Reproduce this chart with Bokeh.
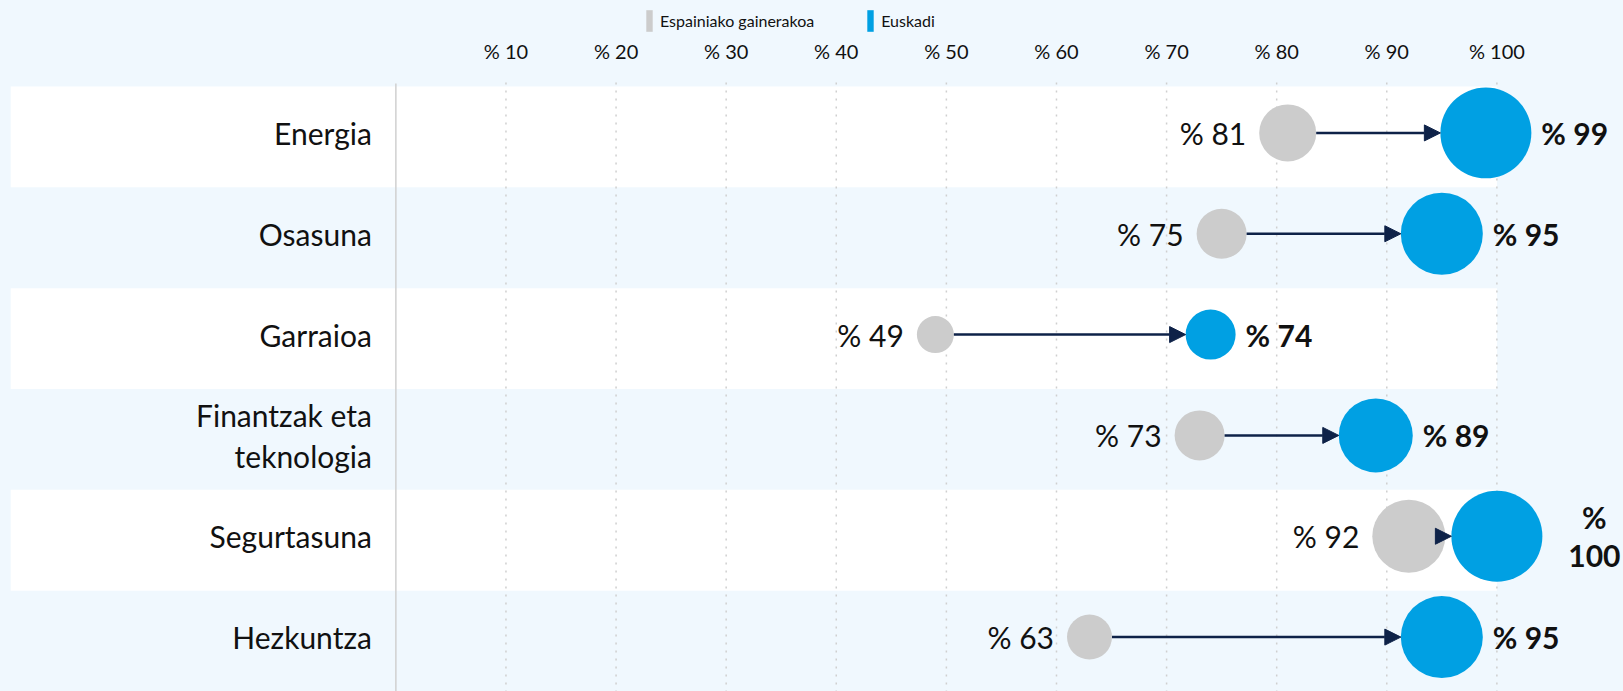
from bokeh.plotting import figure
from bokeh.models import (ColumnDataSource, Range1d, Arrow, NormalHead, Legend, LegendItem)
from bokeh.core.properties import value
from bokeh.embed import file_html
from bokeh.resources import INLINE

# ---------------- data ----------------
categories = ["Energia", "Osasuna", "Garraioa", "Finantzak eta\nteknologia", "Segurtasuna", "Hezkuntza"]
spain_values = [81, 75, 49, 73, 92, 63]          # Espainiako gainerakoa
euskadi_values = [99, 95, 74, 89, 100, 95]       # Euskadi
spain_sizes = [57, 50, 37, 50, 73, 45]           # bubble sizes as drawn
euskadi_sizes = [91, 82, 50, 74, 91, 82]
tick_values = [10, 20, 30, 40, 50, 60, 70, 80, 90, 100]
tick_labels = ["% " + str(t) for t in tick_values]
series_names = ["Espainiako gainerakoa", "Euskadi"]

# ---------------- style / layout ----------------
BG = "#f0f8fe"
GREY = "#cccccc"
BLUE = "#00a0e3"
NAVY = "#0e2248"
TEXT = "#111111"
FONT = "Lato"
LABEL_SIZE = "30px"

W, H = 1623, 691
B_LEFT = 10
HEADER_PX = 86                      # header band above the first row
FRAME_W = W - B_LEFT
FRAME_H = H
X_MIN, X_MAX = -35.0, 111.5
PPU = FRAME_W / (X_MAX - X_MIN)

n = len(categories)
rows = list(range(n))
ROW_PX = (FRAME_H - HEADER_PX) / n
S = 4 / ROW_PX                      # bands sit slightly lower than row content
TOP = -0.5 + S                      # top edge of first band
BOTTOM = n - 0.5 + S
def px_up(px):                      # data y that lies px pixels above the first band
    return TOP - px / ROW_PX

p = figure(width=W, height=H, output_backend="svg", toolbar_location=None,
           x_range=Range1d(X_MIN, X_MAX),
           y_range=Range1d(BOTTOM, px_up(HEADER_PX)),
           x_axis_location=None, y_axis_location=None,
           min_border_left=B_LEFT, min_border_right=0,
           min_border_top=0, min_border_bottom=0)
p.background_fill_color = BG
p.border_fill_color = BG
p.outline_line_color = None
p.xgrid.visible = False
p.ygrid.visible = False

# alternating white row bands
band_rows = [r + S for r in rows[0::2]]
p.hbar(y=band_rows, left=X_MIN, right=max(tick_values), height=1,
       fill_color="white", line_color=None)

# dotted gridlines
p.segment(x0=tick_values, x1=tick_values, y0=px_up(4), y1=BOTTOM,
          line_color="#cfcfcf", line_dash="2 6", line_width=1.5)
# separator between labels and plot area
p.segment(x0=[0], x1=[0], y0=px_up(3), y1=BOTTOM, line_color="#d0d0d0", line_width=1.5)

# tick labels (top)
p.text(x=tick_values, y=px_up(36), text=tick_labels, text_align="center",
       text_baseline="middle", text_font=value(FONT), text_font_size="20px",
       text_color=TEXT)

# ---------------- data source ----------------
s_label, e_label, e_align, e_off = [], [], [], []
for v, sz in zip(euskadi_values, euskadi_sizes):
    if v >= 100:
        e_label.append("%\n" + str(v))
        e_align.append("center")
        e_off.append(sz / 2 + 52)
    else:
        e_label.append("% " + str(v))
        e_align.append("left")
        e_off.append(sz / 2 + 10)
for v in spain_values:
    s_label.append("% " + str(v))

src = ColumnDataSource(dict(
    y=rows, cat=categories,
    spain=spain_values, euskadi=euskadi_values,
    s_size=spain_sizes, e_size=euskadi_sizes,
    s_label=s_label, e_label=e_label, e_align=e_align,
    s_off=[-(s / 2 + 13) for s in spain_sizes], e_off=e_off,
    a_start=[v + s / 2 / PPU for v, s in zip(spain_values, spain_sizes)],
    a_end=[v - s / 2 / PPU for v, s in zip(euskadi_values, euskadi_sizes)],
))

# arrows
p.add_layout(Arrow(source=src, x_start="a_start", y_start="y", x_end="a_end", y_end="y",
                   line_color=NAVY, line_width=2.5,
                   end=NormalHead(size=16, fill_color=NAVY, line_color=NAVY, line_width=1)))

# bubbles
p.scatter(x="spain", y="y", size="s_size", source=src, fill_color=GREY, line_color=None)
p.scatter(x="euskadi", y="y", size="e_size", source=src, fill_color=BLUE, line_color=None)

# value labels
p.text(x="spain", y="y", text="s_label", source=src, x_offset="s_off",
       text_align="right", text_baseline="middle", text_font=value(FONT),
       text_font_size=LABEL_SIZE, text_color=TEXT)
p.text(x="euskadi", y="y", text="e_label", source=src, x_offset="e_off",
       text_align="e_align", text_baseline="middle", text_font=value(FONT),
       text_font_size=LABEL_SIZE, text_font_style="bold", text_color=TEXT,
       text_line_height=1.05)

# category labels
p.text(x=0, y="y", text="cat", source=src, x_offset=-24,
       text_align="right", text_baseline="middle", text_font=value(FONT),
       text_font_size=LABEL_SIZE, text_color=TEXT, text_line_height=1.12)

# legend (rectangular swatches) inside the header area; renderers hold no visible data
nan = float("nan")
r_s = p.quad(left=[nan], right=[nan], top=[nan], bottom=[nan], fill_color=GREY, line_color=None)
r_e = p.quad(left=[nan], right=[nan], top=[nan], bottom=[nan], fill_color=BLUE, line_color=None)
legend = Legend(items=[LegendItem(label=series_names[0], renderers=[r_s]),
                       LegendItem(label=series_names[1], renderers=[r_e])],
                orientation="horizontal", location=(635, H - 34),
                glyph_width=8, glyph_height=27, label_standoff=7, spacing=52,
                padding=0, margin=0, border_line_color=None,
                background_fill_alpha=0,
                label_text_font=FONT, label_text_font_size="16px",
                label_text_color=TEXT, label_text_baseline="middle")
p.add_layout(legend)

html = file_html(p, INLINE)
html = html.replace("</head>", "<style>body{background:%s;}</style></head>" % BG, 1)
open("out.html", "w").write(html)
